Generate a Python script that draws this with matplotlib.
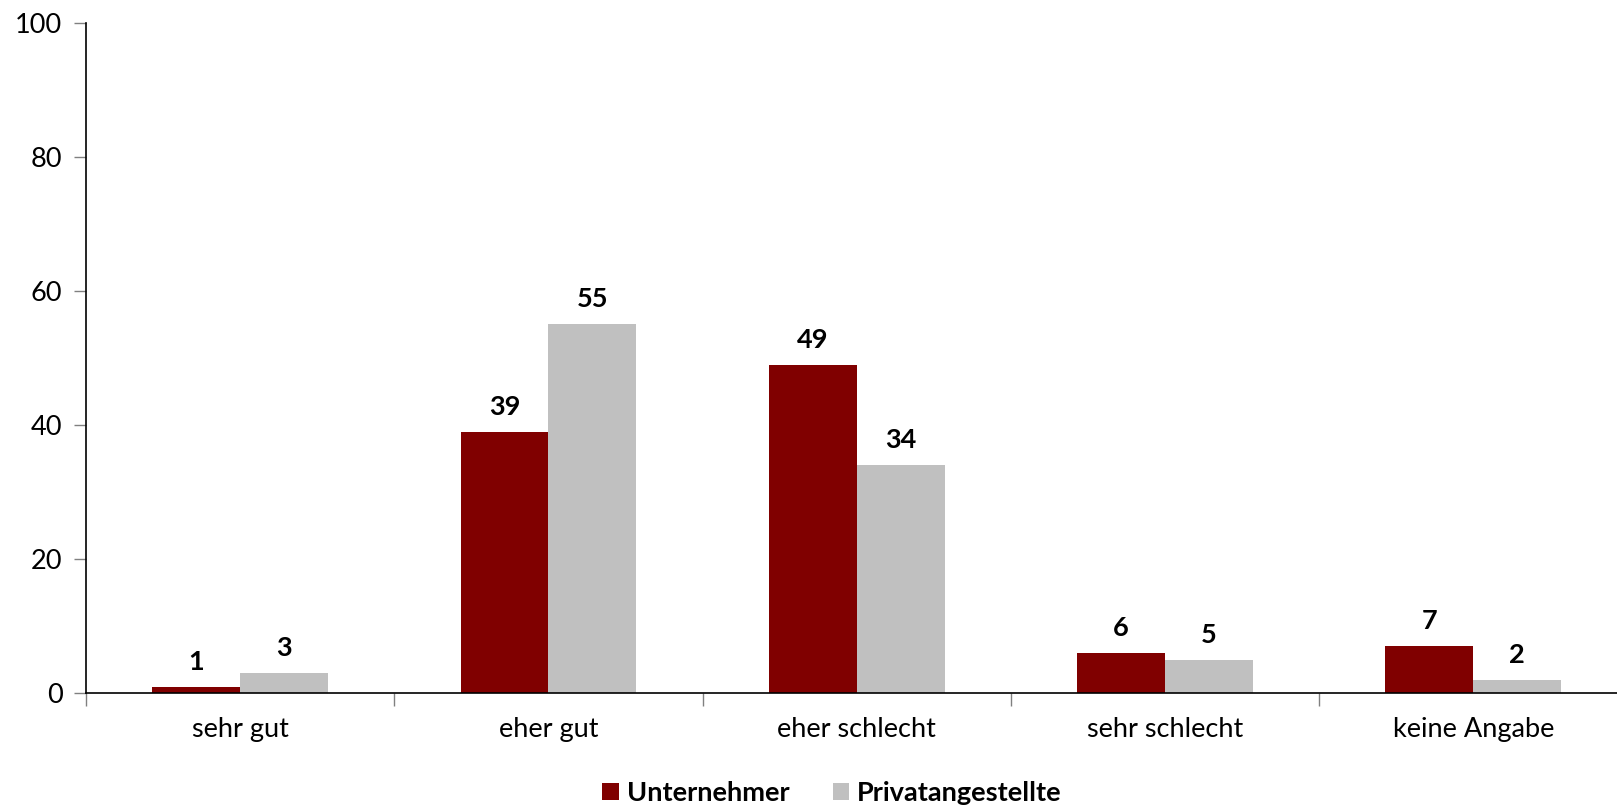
import matplotlib
matplotlib.use("Agg")
import matplotlib.pyplot as plt
import numpy as np

categories = ["sehr gut", "eher gut", "eher schlecht", "sehr schlecht", "keine Angabe"]
unternehmer = [1, 39, 49, 6, 7]
privat = [3, 55, 34, 5, 2]
series_names = ["Unternehmer", "Privatangestellte"]
colors = ["#800000", "#C0C0C0"]
yticks = [0, 20, 40, 60, 80, 100]

plt.rcParams['font.family'] = ['Lato', 'DejaVu Sans']
FS = 19.5

W, H = 1617, 805
fig = plt.figure(figsize=(W/100, H/100), dpi=100)
x0, x1 = 86, 86 + 5*308.3
ytop, ybot = 22.7, 693.3
ax = fig.add_axes([x0/W, 1 - ybot/H, (x1 - x0)/W, (ybot - ytop)/H])

x = np.arange(len(categories))
bw = 0.285
b1 = ax.bar(x - bw/2, unternehmer, bw, color=colors[0], label=series_names[0])
b2 = ax.bar(x + bw/2, privat, bw, color=colors[1], label=series_names[1])
for bars, vals in ((b1, unternehmer), (b2, privat)):
    for r, v in zip(bars, vals):
        ax.annotate(str(v), (r.get_x() + r.get_width()/2, v), xytext=(0, 13),
                    textcoords="offset pixels",
                    ha="center", va="bottom", fontsize=FS, fontweight="bold", color="black")

ax.set_xlim(-0.5, len(categories) - 0.5)
ax.set_ylim(0, 100)
ax.set_yticks(yticks)
ax.set_yticklabels([str(t) for t in yticks], fontsize=FS)
ax.set_xticks(x)
ax.set_xticklabels(categories, fontsize=FS)
ax.tick_params(axis='x', length=0, pad=17)
ax.set_xticks(np.arange(len(categories) + 1) - 0.5, minor=True)
ax.tick_params(axis='x', which='minor', length=9, color='#808080', width=1)
ax.tick_params(axis='y', length=9, color='#808080', width=1, pad=8)
for s in ("top", "right"):
    ax.spines[s].set_visible(False)
ax.spines["left"].set_linewidth(1.2)
ax.spines["bottom"].set_linewidth(1.2)

fig.legend(handles=[b1, b2], labels=series_names, loc="center", bbox_to_anchor=(832/W, 1 - 793/H),
           ncol=2, frameon=False, prop={"weight": "bold", "size": FS},
           handlelength=0.6, handleheight=0.6, handletextpad=0.3, columnspacing=1.6)

fig.savefig("out.png", dpi=100)
